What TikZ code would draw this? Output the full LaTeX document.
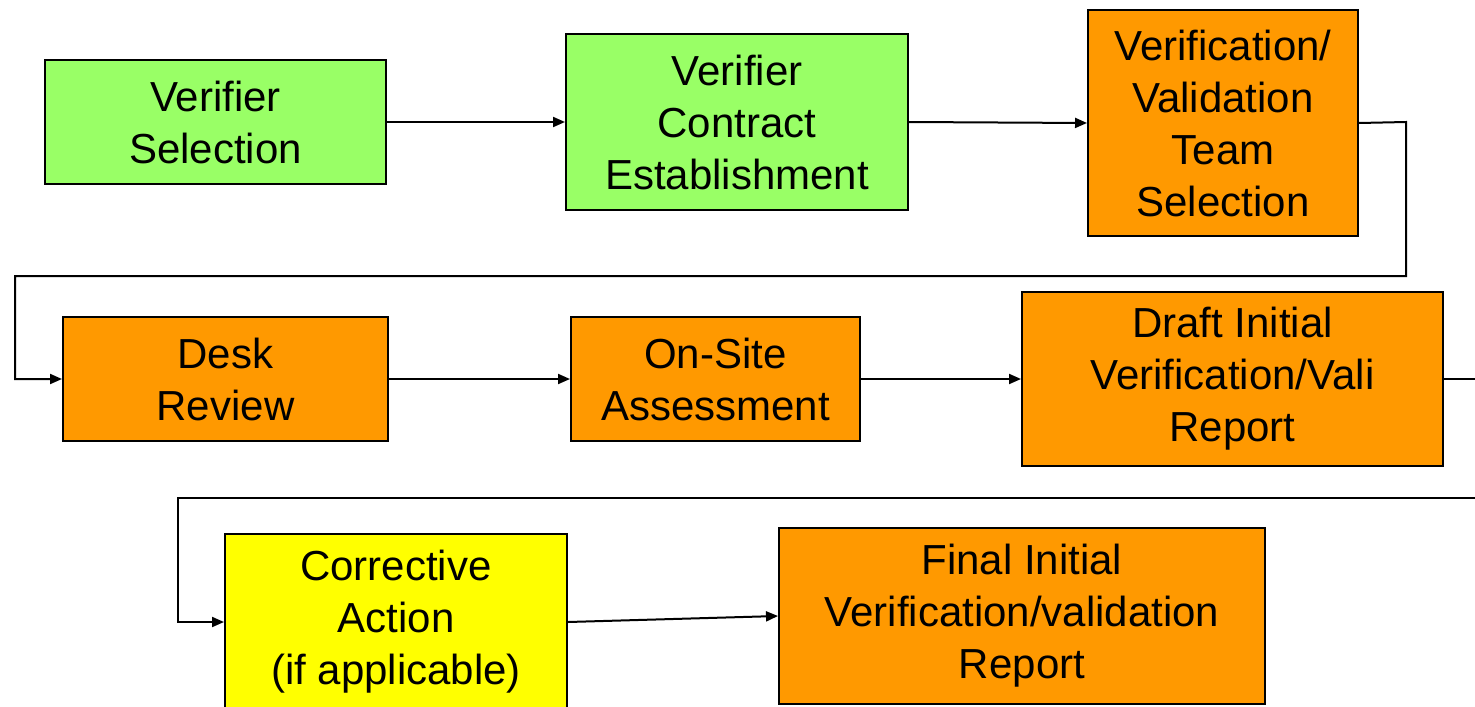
\documentclass[tikz,border=0pt]{standalone}
\usepackage{fontspec}
\setmainfont{Liberation Sans}
\usepackage{xcolor}
\usetikzlibrary{arrows.meta}
\definecolor{stepgreen}{HTML}{99FF66}
\definecolor{steporange}{HTML}{FF9900}
\definecolor{stepyellow}{HTML}{FFFF00}
\begin{document}
\begin{tikzpicture}[->,>={Triangle[length=6pt,width=5pt]},line width=1pt,
                    x=0.5pt,y=-0.5pt,
                    task/.style={draw=black,line width=1pt,align=center,
                      font=\fontsize{21}{26}\selectfont,inner sep=0pt},
                    green task/.style={task,fill=stepgreen},
                    orange task/.style={task,fill=steporange},
                    yellow task/.style={task,fill=stepyellow}]
\useasboundingbox (0,0) rectangle (1475,706);

% first row
\node[green task,minimum width=170.5pt,minimum height=62pt] (SEL) at(215.5,122) {Verifier\\Selection};
\node[green task,minimum width=171pt,minimum height=88pt] (CON) at(737,122) {Verifier\\Contract\\Establishment};
\node[orange task,minimum width=135pt,minimum height=113pt] (TEAM) at(1223,123) {Verification/\\Validation\\Team\\Selection};

% second row
\node[orange task,minimum width=162.5pt,minimum height=62pt] (DESK) at(225.5,379) {Desk\\Review};
\node[orange task,minimum width=144.5pt,minimum height=62pt] (SITE) at(715.5,379) {On-Site\\Assessment};
\node[orange task,minimum width=210.5pt,minimum height=87pt] (DRAFT) at(1232.5,379) {Draft Initial\\Verification/Vali\\Report};

% third row
\node[yellow task,minimum width=171pt,minimum height=88pt] (CORR) at(396,622) {Corrective\\Action\\(if applicable)};
\node[orange task,minimum width=243pt,minimum height=88pt] (FINAL) at(1022,616) {Final Initial\\Verification/validation\\Report};

\coordinate (T1) at(1406,122);
\coordinate (T2) at(15,276);
\coordinate (D1) at(1520,379);
\coordinate (D2) at(178,498);

\draw (SEL) -- (CON);
\draw (CON.east) -- (TEAM.west);
\draw (TEAM.east) -- (T1) |- (T2) |- (DESK.west);
\draw (DESK) -- (SITE);
\draw (SITE) -- (DRAFT);
\draw (DRAFT.east) -- (D1) |- (D2) |- (CORR.west);
\draw (CORR.east) -- (FINAL.west);
\end{tikzpicture}
\end{document}
